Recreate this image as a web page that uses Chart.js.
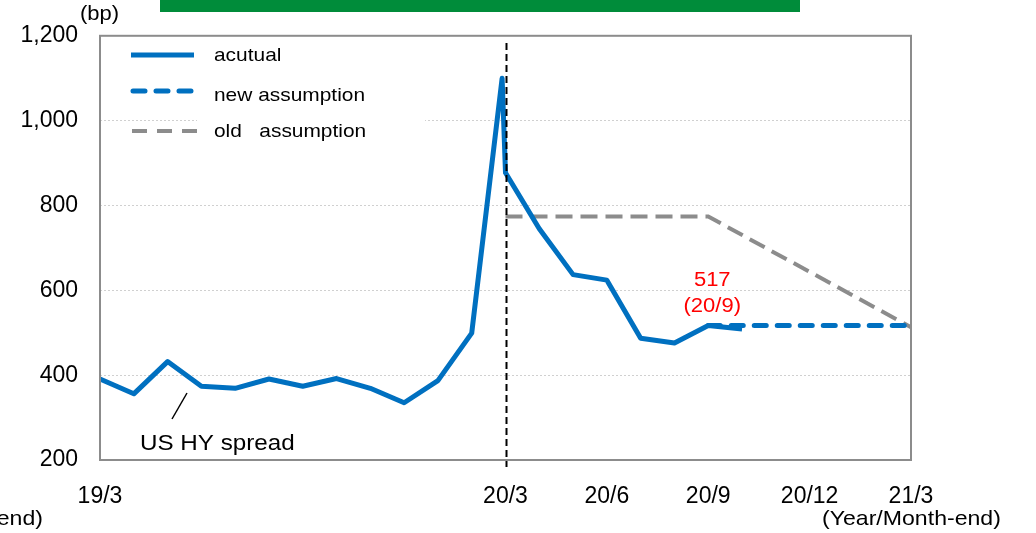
<!DOCTYPE html>
<html>
<head>
<meta charset="utf-8">
<script src="https://cdn.jsdelivr.net/npm/chart.js@4.4.0/dist/chart.umd.min.js"></script>
<style>
  html, body { margin: 0; padding: 0; background: #fff; }
  #wrap { width: 1036px; height: 533px; position: relative; }
</style>
</head>
<body>
<div id="wrap"><canvas id="myChart"></canvas></div>
<script>
// months counted from 19/3 (0) to 21/3 (24)
const actualX = [0, 1, 2, 3, 4, 5, 6, 7, 8, 9, 10, 11, 11.9, 12, 13, 14, 15, 16, 17, 18, 19];
const actualY = [391, 356, 432, 374, 369, 391, 374, 392, 369, 335, 387, 499, 1100, 877, 745, 637, 624, 487, 476, 517, 509];
const newX = [18, 24];
const newY = [517, 517];
const oldX = [12, 18, 24];
const oldY = [774, 774, 513];
const xTickValues = [0, 12, 15, 18, 21, 24];
const xTickLabels = ['19/3', '20/3', '20/6', '20/9', '20/12', '21/3'];

const blue = '#0070C0';
const gray = '#8C8C8C';
const font = 'Liberation Sans, Arial, sans-serif';

function pts(xs, ys) {
    return xs.map((x, i) => ({ x: x, y: ys[i] }));
}

// text a bit wider than the font, like the original
function wideText(c, txt, x, y, size, align) {
    const sx = 1.1;
    c.save();
    c.font = size + 'px ' + font;
    c.textBaseline = 'middle';
    c.textAlign = 'left';
    const w = c.measureText(txt).width * sx;
    let x0 = x;
    if (align === 'center') x0 = x - w / 2;
    if (align === 'right') x0 = x - w;
    c.translate(x0, y);
    c.scale(sx, 1);
    c.fillText(txt, 0, 0);
    c.restore();
}

// extra drawing: frame, legend, notes
const extras = {
    id: 'extras',
    beforeDraw(chart) {
        const c = chart.ctx;
        c.save();
        c.fillStyle = '#008C3A';
        c.fillRect(160, 0, 640, 12);
        c.restore();
    },
    beforeDatasetsDraw(chart) {
        const c = chart.ctx;
        // white box behind legend
        c.save();
        c.fillStyle = '#fff';
        c.fillRect(197, 40, 228, 105);
        c.restore();
    },
    afterDatasetsDraw(chart) {
        const c = chart.ctx;
        const a = chart.chartArea;
        const xs = chart.scales.x;
        c.save();

        // frame
        c.strokeStyle = gray;
        c.lineWidth = 2;
        c.strokeRect(a.left, a.top, a.right - a.left, a.bottom - a.top);

        // vertical dashed line at 20/3
        const vx = Math.round(xs.getPixelForValue(12)) + 0.5;
        c.strokeStyle = '#000';
        c.lineWidth = 2;
        c.setLineDash([7, 4]);
        c.beginPath();
        c.moveTo(vx, 43);
        c.lineTo(vx, a.bottom + 7);
        c.stroke();

        // legend
        c.setLineDash([]);
        c.lineCap = 'butt';
        c.strokeStyle = blue;
        c.lineWidth = 5;
        c.beginPath();
        c.moveTo(131, 55);
        c.lineTo(194, 55);
        c.stroke();

        c.lineCap = 'round';
        c.setLineDash([12, 11]);
        c.beginPath();
        c.moveTo(133, 91);
        c.lineTo(192, 91);
        c.stroke();

        c.lineCap = 'butt';
        c.strokeStyle = gray;
        c.lineWidth = 4;
        c.setLineDash([15, 10]);
        c.beginPath();
        c.moveTo(132, 131);
        c.lineTo(198, 131);
        c.stroke();

        c.setLineDash([]);
        c.fillStyle = '#000';
        wideText(c, 'acutual', 214, 56, 19);
        wideText(c, 'new assumption', 214, 96, 19);
        wideText(c, 'old   assumption', 214, 132, 19);

        // series note
        c.strokeStyle = '#000';
        c.lineWidth = 1.5;
        c.beginPath();
        c.moveTo(172, 419);
        c.lineTo(187, 393);
        c.stroke();
        wideText(c, 'US HY spread', 140, 444, 22);

        // latest value note
        const px = xs.getPixelForValue(18);
        c.fillStyle = '#FF0000';
        wideText(c, '517', px + 4, 280, 20, 'center');
        wideText(c, '(20/9)', px + 4, 306, 20, 'center');

        // unit and axis notes
        c.fillStyle = '#000';
        wideText(c, '(bp)', 80, 14, 20);
        wideText(c, '(Year/Month-end)', 822, 519, 21);
        wideText(c, '(Year/Month-end)', 43, 519, 21, 'right');
        c.restore();
    }
};

const ctx = document.getElementById('myChart').getContext('2d');

const myChart = new Chart(ctx, {
    type: 'line',
    data: {
        datasets: [
            {
                label: 'acutual',
                data: pts(actualX, actualY),
                borderColor: blue,
                borderWidth: 5,
                pointRadius: 0,
                tension: 0,
                borderJoinStyle: 'round',
                clip: false
            },
            {
                label: 'new assumption',
                data: pts(newX, newY),
                borderColor: blue,
                borderWidth: 5,
                borderDash: [12, 11],
                borderCapStyle: 'round',
                pointRadius: 0,
                clip: false
            },
            {
                label: 'old assumption',
                data: pts(oldX, oldY),
                borderColor: gray,
                borderWidth: 4,
                borderDash: [17, 8],
                pointRadius: 0,
                clip: false
            }
        ]
    },
    options: {
        responsive: true,
        maintainAspectRatio: false,
        animation: false,
        layout: { padding: { top: 32, right: 125, left: 0, bottom: 0 } },
        plugins: {
            legend: { display: false },
            tooltip: { enabled: false }
        },
        scales: {
            x: {
                type: 'linear',
                min: 0,
                max: 24,
                afterBuildTicks: (s) => { s.ticks = xTickValues.map(v => ({ value: v })); },
                afterFit: (s) => { s.height = 73; },
                grid: { display: false },
                border: { display: false },
                ticks: {
                    autoSkip: false,
                    maxRotation: 0,
                    padding: 15,
                    color: '#000',
                    font: { family: font, size: 23 },
                    callback: (v) => xTickLabels[xTickValues.indexOf(v)]
                }
            },
            y: {
                min: 200,
                max: 1200,
                afterFit: (s) => { s.width = 100; },
                grid: { color: '#D0D0D0', lineWidth: 1, drawTicks: false },
                border: { display: false, dash: [2, 2] },
                ticks: {
                    stepSize: 200,
                    padding: 22,
                    color: '#000',
                    font: { family: font, size: 23 },
                    callback: (v) => v.toLocaleString('en-US')
                }
            }
        }
    },
    plugins: [extras]
});
</script>
</body>
</html>
